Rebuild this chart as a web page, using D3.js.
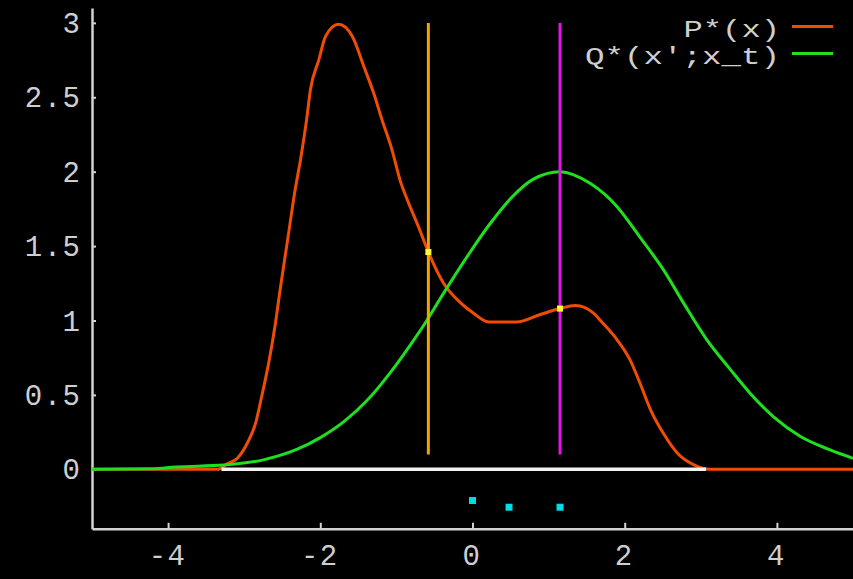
<!DOCTYPE html>
<html>
<head>
<meta charset="utf-8">
<script src="https://cdn.jsdelivr.net/npm/d3@7"></script>
<style>
  html, body { margin: 0; padding: 0; background: #000; }
  svg { display: block; }
</style>
</head>
<body>
<svg id="chart" width="853" height="579"></svg>
<script>
// Target density P*(x): sampled (x, value) pairs
const pX = [-5, -3.35, -3.23, -3.09, -2.96, -2.85, -2.77, -2.68, -2.59, -2.53, -2.43, -2.33, -2.26, -2.18, -2.13, -2.02, -1.93, -1.76, -1.58, -1.43, -1.30, -1.19, -1.06, -0.95, -0.84, -0.71, -0.58, -0.38, -0.16, 0.01, 0.21, 0.58, 0.89, 1.15, 1.35, 1.59, 1.68, 1.90, 2.07, 2.20, 2.34, 2.51, 2.69, 2.91, 3.12, 5];
const pY = [0, 0, 0.035, 0.074, 0.175, 0.31, 0.49, 0.71, 0.98, 1.2, 1.54, 1.88, 2.08, 2.35, 2.55, 2.75, 2.91, 2.99, 2.91, 2.71, 2.53, 2.35, 2.15, 1.94, 1.79, 1.63, 1.46, 1.25, 1.12, 1.05, 0.99, 0.99, 1.04, 1.08, 1.10, 1.05, 1.00, 0.87, 0.735, 0.58, 0.40, 0.24, 0.11, 0.03, 0, 0];

// Proposal density Q*(x'; x_t) centred on the current state
const qX = [-5, -4.2, -3.9, -3.27, -2.75, -2.31, -2.0, -1.69, -1.39, -1.08, -0.77, -0.60, -0.42, -0.03, 0.23, 0.52, 0.8, 1.15, 1.55, 1.90, 2.20, 2.51, 2.77, 3.08, 3.39, 3.65, 3.96, 4.31, 4.70, 5.0];
const qY = [0, 0.003, 0.015, 0.028, 0.063, 0.133, 0.213, 0.32, 0.46, 0.65, 0.87, 1.0, 1.15, 1.46, 1.65, 1.83, 1.95, 2.0, 1.92, 1.765, 1.56, 1.34, 1.12, 0.87, 0.67, 0.51, 0.35, 0.22, 0.13, 0.074];

// Current state x_t and a proposed point x'
const markerX = [-0.58, 1.15];
const markerTop = 3.0;
const markerBottom = 0.1;
const crossPts = [[-0.58, 1.46], [1.15, 1.08]];

// Previous samples shown below the axis
const sampleX = [0, 0.48, 1.15];
const sampleY = [-0.21, -0.255, -0.255];

// Support segment on the zero line
const supportX = [-3.3, 3.07];

const xTicks = [-4, -2, 0, 2, 4];
const yTicks = [0, 0.5, 1, 1.5, 2, 2.5, 3];
const legendLabels = ["P*(x)", "Q*(x';x_t)"];

const colP = "#f04c04", colQ = "#1ee01e", colA = "#f0a400", colB = "#e414e4";
const colAxis = "#d2d2d2", colText = "#cfcfcf";

const svg = d3.select("#chart");
svg.append("rect").attr("width", 853).attr("height", 579).attr("fill", "#000");

const x = d3.scaleLinear().domain([-5, 5]).range([92, 853]);
const y = d3.scaleLinear().domain([-0.4, 3.1]).range([528.8, 8]);

const font = "'Liberation Mono', 'DejaVu Sans Mono', monospace";

// Axes
const gy = svg.append("g").attr("transform", `translate(${x(-5)},0)`)
  .call(d3.axisLeft(y).tickValues(yTicks).tickSize(-4).tickSizeOuter(0).tickFormat(d3.format("")));
const gx = svg.append("g").attr("transform", `translate(0,${y(-0.4)})`)
  .call(d3.axisBottom(x).tickValues(xTicks).tickSize(-6).tickSizeOuter(0).tickFormat(d => d < 0 ? "-" + Math.abs(d) : String(d)));

[gx, gy].forEach(g => {
  g.select(".domain").attr("stroke", colAxis).attr("stroke-width", 2.5);
  g.selectAll(".tick line").attr("stroke", colAxis).attr("stroke-width", 2);
  g.selectAll(".tick text").attr("fill", colText)
    .style("font-family", font).style("font-size", "29px").style("letter-spacing", "1.5px");
});
gy.selectAll(".tick text").attr("x", -10.5).attr("dy", "0.33em").attr("text-anchor", "end");
gx.selectAll(".tick text").attr("y", 36).attr("dy", 0).attr("dx", -1).attr("text-anchor", "middle");

const line = d3.line().x(d => x(d[0])).y(d => y(d[1])).curve(d3.curveMonotoneX);

// P*(x)
svg.append("path").datum(pX.map((v, i) => [v, pY[i]]))
  .attr("d", line).attr("fill", "none").attr("stroke", colP).attr("stroke-width", 3).attr("stroke-linejoin", "round");

// white segment along zero
svg.append("line")
  .attr("x1", x(supportX[0])).attr("x2", x(supportX[1]))
  .attr("y1", y(0)).attr("y2", y(0))
  .attr("stroke", "#f2f2f2").attr("stroke-width", 3.5);

// Q*(x'; x_t)
svg.append("path").datum(qX.map((v, i) => [v, qY[i]]))
  .attr("d", line).attr("fill", "none").attr("stroke", colQ).attr("stroke-width", 3).attr("stroke-linejoin", "round");

// vertical markers
svg.selectAll("line.marker").data(markerX).enter().append("line")
  .attr("class", "marker")
  .attr("x1", d => x(d)).attr("x2", d => x(d))
  .attr("y1", y(markerTop)).attr("y2", y(markerBottom))
  .attr("stroke", (d, i) => i === 0 ? colA : colB).attr("stroke-width", 3);

// intersections
svg.selectAll("rect.cross").data(crossPts).enter().append("rect")
  .attr("class", "cross")
  .attr("x", d => x(d[0]) - 3).attr("y", d => y(d[1]) - 3)
  .attr("width", 6).attr("height", 6).attr("fill", "#ffff30");

// samples
svg.selectAll("rect.sample").data(sampleX.map((v, i) => [v, sampleY[i]])).enter().append("rect")
  .attr("class", "sample")
  .attr("x", d => x(d[0]) - 3.5).attr("y", d => y(d[1]) - 3.5)
  .attr("width", 7).attr("height", 7).attr("fill", "#00dce4");

// legend: keys right-aligned against their line samples
const legend = svg.append("g");
const charW = 19.7;
[colP, colQ].forEach((c, i) => {
  const ly = 26.5 + i * 27;
  legend.append("text").attr("x", 780).attr("y", ly + 10)
    .attr("text-anchor", "end").attr("fill", colText)
    .attr("textLength", legendLabels[i].length * charW - 2)
    .attr("lengthAdjust", "spacingAndGlyphs")
    .style("font-family", font).style("font-size", "24px")
    .text(legendLabels[i]);
  legend.append("line").attr("x1", 792).attr("x2", 833).attr("y1", ly).attr("y2", ly)
    .attr("stroke", c).attr("stroke-width", 3);
});
</script>
</body>
</html>
